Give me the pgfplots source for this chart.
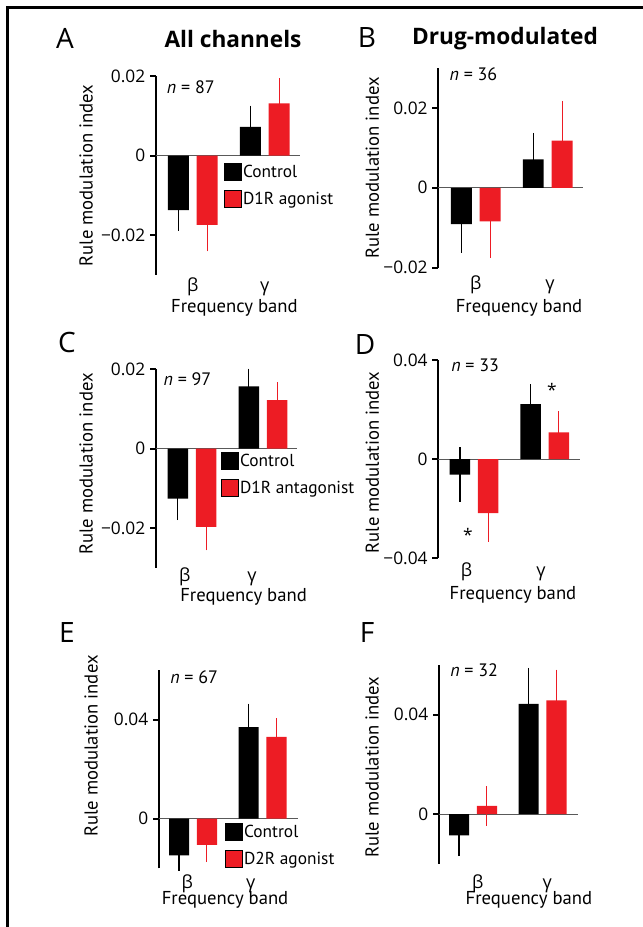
\documentclass[border=0pt]{standalone}
\usepackage{fontspec}
\setmainfont{PT Sans}
\newfontfamily\osans{Open Sans}
\usepackage{pgfplots}
\pgfplotsset{compat=1.18}
\definecolor{bred}{RGB}{237,28,36}
\tikzset{zeroline/.style={line width=0.9pt, black!65}}
\pgfplotsset{
  panel/.style={
    scale only axis,
    axis y line*=left,
    axis x line*=bottom,
    x axis line style={draw=none},
    y axis line style={line width=1.5pt, black},
    xticklabels={{\osans β},{\osans γ}},
    xtick style={draw=none},
    ytick style={line width=1.5pt, black},
    tick align=outside,
    major tick length=4.5pt,
    scaled y ticks=false,
    xticklabel style={font=\fontsize{13.5}{16}\selectfont},
    yticklabel style={font=\osans\fontsize{13}{16}\selectfont},
    /pgf/number format/assume math mode=true,
    label style={font=\fontsize{14}{16}\selectfont},
    ylabel={Rule modulation index},
    xlabel={Frequency band},
    clip=false,
    legend image code/.code={\fill[##1] (0pt,-6pt) rectangle (12.75pt,6.75pt);},
    legend style={draw=none, fill=none, inner sep=0pt, row sep=6.75pt,
      font=\fontsize{13}{15}\selectfont, nodes={inner xsep=1pt, inner ysep=0pt}},
    legend cell align=left,
  },
  ctrl/.style={ybar, bar width=0.29, bar shift=0pt, fill=black, draw=none,
    error bars/y dir=both, error bars/y explicit,
    error bars/error bar style={line width=1pt, black},
    error bars/error mark options={line width=1pt, black, mark size=2.5pt}},
  drug/.style={ybar, bar width=0.29, bar shift=0pt, fill=bred, draw=none,
    error bars/y dir=both, error bars/y explicit,
    error bars/error bar style={line width=0.8pt, bred},
    error bars/error mark options={line width=0.8pt, bred, mark size=2.5pt}},
}
\begin{document}
\begin{tikzpicture}[x=0.75pt,y=0.75pt]
\path[use as bounding box] (0,0) rectangle (642,927);
\draw[line width=2.25pt] (7.7,-10) -- (7.7,919.3) -- (660,919.3);

% ---------- A ----------
\begin{axis}[panel, at={(117pt,489pt)}, anchor=south west, width=108pt, height=149.25pt,
  xmin=-0.51, xmax=1.49, ymin=-0.03, ymax=0.02,
  xtick={0,1},
  ytick={-0.02,0,0.02}, yticklabels={−0.02,0,0.02},
  xticklabel style={anchor=base, yshift=-8.25pt},
  xlabel style={at={(axis description cs:0.545,-0.186)}, anchor=base},
  ylabel style={at={(axis description cs:-0.486,0.5)}, anchor=center},
  legend style={at={(axis description cs:0.472,0.563)}, anchor=north west}]
\addlegendimage{fill=black}
\addlegendimage{fill=bred}
\draw[zeroline] (axis cs:-0.51,0) -- (axis cs:1.49,0);
\addplot[forget plot, ctrl] coordinates {(-0.2,-0.0137) +- (0,0.0044) (0.8,0.0072) +- (0,0.0045)};
\addplot[forget plot, drug] coordinates {(0.2,-0.0174) +- (0,0.0058) (1.2,0.0131) +- (0,0.0055)};
\legend{Control, D1R agonist}
\end{axis}

% ---------- B ----------
\begin{axis}[panel, at={(328.725pt,494.475pt)}, anchor=south west, width=108.5pt, height=149.8pt,
  xmin=-0.52, xmax=1.49, ymin=-0.02, ymax=0.03,
  xtick={0,1.03},
  ytick={-0.02,0,0.02}, yticklabels={−0.02,0,0.02},
  xticklabel style={anchor=base, yshift=-12.2pt},
  xlabel style={at={(axis description cs:0.558,-0.222)}, anchor=base},
  ylabel style={at={(axis description cs:-0.456,0.5)}, anchor=center}]
\draw[zeroline] (axis cs:-0.52,0) -- (axis cs:1.49,0);
\addplot[ctrl] coordinates {(-0.2,-0.0091) +- (0,0.0063) (0.8,0.0071) +- (0,0.0058)};
\addplot[drug] coordinates {(0.2,-0.0084) += (0,0.006) -= (0,0.0084) (1.2,0.0118) +- (0,0.0091)};
\end{axis}

% ---------- C ----------
\begin{axis}[panel, at={(117pt,269.475pt)}, anchor=south west, width=105.75pt, height=148.8pt,
  xmin=-0.507, xmax=1.479, ymin=-0.03, ymax=0.02,
  xtick={-0.1,0.845},
  ytick={-0.02,0,0.02}, yticklabels={−0.02,0,0.02},
  xticklabel style={anchor=base, yshift=-6.2pt},
  xlabel style={at={(axis description cs:0.621,-0.168)}, anchor=base},
  ylabel style={at={(axis description cs:-0.496,0.523)}, anchor=center},
  legend style={at={(axis description cs:0.461,0.583)}, anchor=north west}]
\addlegendimage{fill=black}
\addlegendimage{fill=bred}
\draw[zeroline] (axis cs:-0.507,0) -- (axis cs:1.479,0);
\addplot[forget plot, ctrl] coordinates {(-0.2,-0.0126) +- (0,0.0046) (0.8,0.0157) +- (0,0.0036)};
\addplot[forget plot, drug] coordinates {(0.2,-0.0197) +- (0,0.0051) (1.2,0.0122) +- (0,0.0037)};
\legend{Control, D1R antagonist}
\end{axis}

% ---------- D ----------
\begin{axis}[panel, at={(328.725pt,276.525pt)}, anchor=south west, width=106.3pt, height=148.7pt,
  xmin=-0.506, xmax=1.50, ymin=-0.04, ymax=0.04,
  xtick={-0.106,0.946},
  ytick={-0.04,0,0.04}, yticklabels={−0.04,0,0.04},
  xticklabel style={anchor=base, yshift=-9.5pt},
  xlabel style={at={(axis description cs:0.527,-0.210)}, anchor=base},
  ylabel style={at={(axis description cs:-0.466,0.483)}, anchor=center}]
\draw[zeroline] (axis cs:-0.506,0) -- (axis cs:1.50,0);
\addplot[ctrl] coordinates {(-0.2,-0.0062) +- (0,0.0096) (0.8,0.0222) +- (0,0.0067)};
\addplot[drug] coordinates {(0.2,-0.0218) +- (0,0.0101) (1.2,0.0108) +- (0,0.0071)};
\end{axis}

% ---------- E ----------
\begin{axis}[panel, at={(119.25pt,44.025pt)}, anchor=south west, width=104.25pt, height=148.7pt,
  xmin=-0.49, xmax=1.51, ymin=-0.02, ymax=0.06,
  xtick={-0.083,0.83},
  ytick={0,0.04}, yticklabels={0,0.04},
  xticklabel style={anchor=base, yshift=-10.6pt},
  xlabel style={at={(axis description cs:0.475,-0.185)}, anchor=base},
  ylabel style={at={(axis description cs:-0.489,0.617)}, anchor=center},
  legend style={at={(axis description cs:0.475,0.228)}, anchor=north west}]
\addlegendimage{fill=black}
\addlegendimage{fill=bred}
\draw[zeroline] (axis cs:-0.49,0) -- (axis cs:1.51,0);
\addplot[forget plot, ctrl] coordinates {(-0.2,-0.0148) +- (0,0.0048) (0.8,0.0370) +- (0,0.0081)};
\addplot[forget plot, drug] coordinates {(0.2,-0.0105) +- (0,0.0057) (1.2,0.0330) +- (0,0.0063)};
\legend{Control, D2R agonist}
\end{axis}

% ---------- F ----------
\begin{axis}[panel, at={(329.25pt,47.25pt)}, anchor=south west, width=104.25pt, height=149.25pt,
  xmin=-0.49, xmax=1.51, ymin=-0.02, ymax=0.06,
  xtick={0.068,1.068},
  ytick={0,0.04}, yticklabels={0,0.04},
  xticklabel style={anchor=base, yshift=-14.25pt},
  xlabel style={at={(axis description cs:0.647,-0.206)}, anchor=base},
  ylabel style={at={(axis description cs:-0.482,0.487)}, anchor=center}]
\draw[zeroline] (axis cs:-0.49,0) -- (axis cs:1.51,0);
\addplot[ctrl] coordinates {(-0.2,-0.0085) +- (0,0.0070) (0.8,0.0444) +- (0,0.0131)};
\addplot[drug] coordinates {(0.2,0.0034) +- (0,0.0066) (1.2,0.0458) +- (0,0.0110)};
\end{axis}

% ---------- panel letters, titles, n ----------
\begin{scope}[every node/.style={font=\osans\fontsize{21}{25}\selectfont, inner sep=0pt}]
\node at (65,889) {A};
\node at (367,889) {B};
\node at (67,584) {C};
\node at (365,582) {D};
\node at (67,294) {E};
\node at (367,294) {F};
\end{scope}
\node[font=\osans\fontsize{17}{20}\selectfont\bfseries, inner sep=0pt] at (233,888) {All channels};
\node[font=\osans\fontsize{17}{20}\selectfont\bfseries, inner sep=0pt] at (505,888) {Drug-modulated};
\begin{scope}[every node/.style={font=\fontsize{13.5}{16}\selectfont, inner sep=0pt, anchor=base west}]
\node at (166.7,833.7) {{\itshape n} = 87};
\node at (449.3,846) {{\itshape n} = 36};
\node at (163.3,541) {{\itshape n} = 97};
\node at (451,555.3) {{\itshape n} = 33};
\node at (170,243) {{\itshape n} = 67};
\node at (450,250.3) {{\itshape n} = 32};
\end{scope}
\node[font=\osans\fontsize{13}{16}\selectfont, inner sep=0pt, anchor=base] at (468,385.4) {*};
\node[font=\osans\fontsize{13}{16}\selectfont, inner sep=0pt, anchor=base] at (552,530.4) {*};
\end{tikzpicture}
\end{document}
